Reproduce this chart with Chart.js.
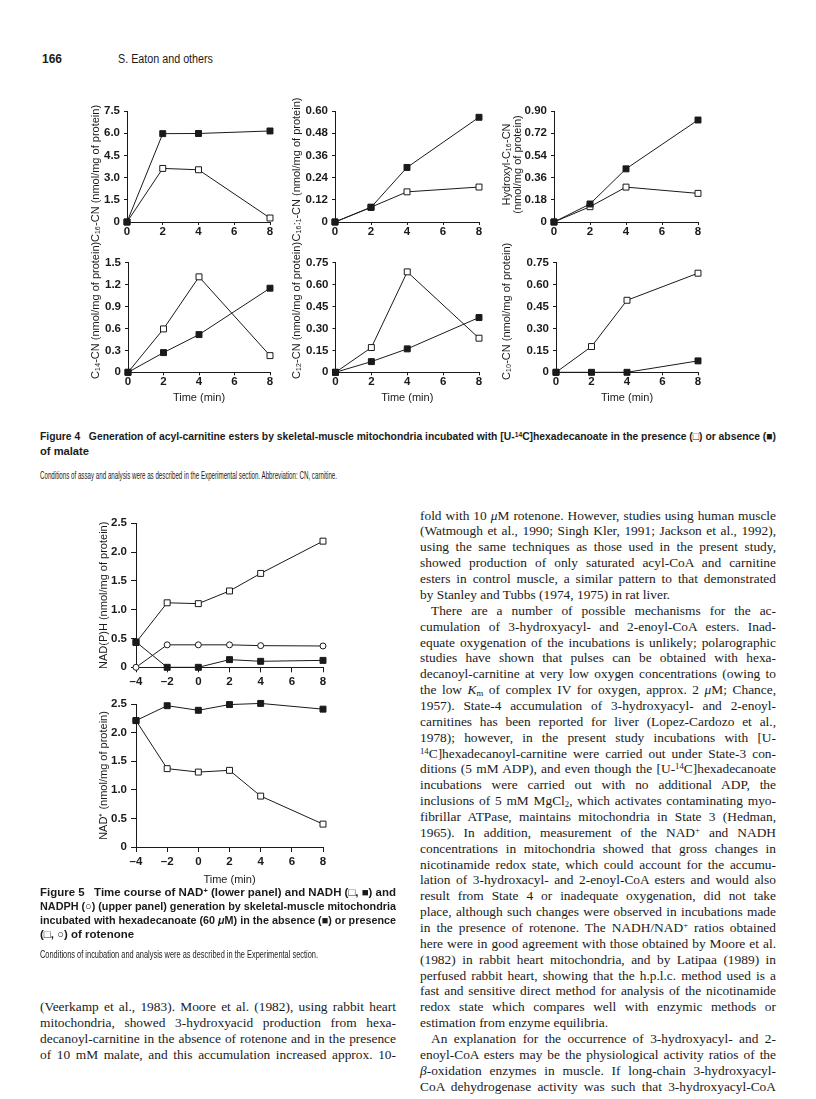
<!DOCTYPE html>
<html>
<head>
<meta charset="utf-8">
<script src="https://cdn.jsdelivr.net/npm/chart.js@4.4.0/dist/chart.umd.min.js"></script>
<style>
html, body { margin: 0; padding: 0; background: #fff; }
body { width: 816px; height: 1099px; position: relative; overflow: hidden; color: #1a1a1a; }
canvas { position: absolute; }
.ln { position: absolute; white-space: nowrap; line-height: 1; display: inline-block; transform-origin: 0 50%; }
.serif { font-family: "Liberation Serif", "Times New Roman", serif; font-size: 13.4px; }
.cap { font-family: "Liberation Sans Narrow", "Liberation Sans", Arial, sans-serif; font-weight: bold; font-size: 11px; }
.cond { font-family: "Liberation Sans Narrow", "Liberation Sans", Arial, sans-serif; font-size: 10.5px; }
.head { font-family: "Liberation Sans", Arial, sans-serif; font-size: 12px; }
sup { font-size: 0.65em; vertical-align: 0.45em; line-height: 0; }
sub { font-size: 0.65em; vertical-align: -0.2em; line-height: 0; }
</style>
</head>
<body>
<script>
// Figure 4 : temps (min)
const time4 = [0, 2, 4, 8];
const time4Ticks = [0, 2, 4, 6, 8];

const c16Malate = [0, 3.62, 3.53, 0.27];
const c16NoMalate = [0, 5.97, 5.98, 6.15];
const c16Ticks = [0, 1.5, 3.0, 4.5, 6.0, 7.5];

const c161Malate = [0, 0.08, 0.163, 0.189];
const c161NoMalate = [0, 0.079, 0.295, 0.566];
const c161Ticks = [0, 0.12, 0.24, 0.36, 0.48, 0.60];

const hydroxyMalate = [0, 0.124, 0.283, 0.232];
const hydroxyNoMalate = [0, 0.146, 0.431, 0.827];
const hydroxyTicks = [0, 0.18, 0.36, 0.54, 0.72, 0.90];

const c14Malate = [0, 0.593, 1.304, 0.228];
const c14NoMalate = [0, 0.269, 0.515, 1.149];
const c14Ticks = [0, 0.3, 0.6, 0.9, 1.2, 1.5];

const c12Malate = [0, 0.169, 0.686, 0.233];
const c12NoMalate = [0, 0.073, 0.16, 0.374];
const c12Ticks = [0, 0.15, 0.30, 0.45, 0.60, 0.75];

const c10Malate = [0, 0.176, 0.492, 0.677];
const c10NoMalate = [0, 0, 0, 0.078];
const c10Ticks = [0, 0.15, 0.30, 0.45, 0.60, 0.75];

// Figure 5
const time5 = [-4, -2, 0, 2, 4, 8];
const time5Ticks = [-4, -2, 0, 2, 4, 6, 8];
const nadhRotenone = [0.43, 1.12, 1.105, 1.325, 1.63, 2.19];
const nadhControl = [0.44, 0, 0, 0.133, 0.104, 0.12];
const nadphRotenone = [0, 0.39, 0.39, 0.39, 0.376, 0.37];
const nadRotenone = [2.21, 1.37, 1.31, 1.34, 0.89, 0.40];
const nadControl = [2.21, 2.47, 2.39, 2.49, 2.51, 2.41];
const nadTicks = [0, 0.5, 1.0, 1.5, 2.0, 2.5];

const INK = "#1a1a1a";
Chart.defaults.font.family = '"Liberation Sans", Arial, sans-serif';
Chart.defaults.color = INK;

function series(xs, ys, kind) {
    const filled = kind === "filled";
    return {
        data: xs.map((x, i) => ({ x: x, y: ys[i] })),
        borderColor: INK,
        borderWidth: 1,
        pointStyle: kind === "circle" ? "circle" : "rect",
        pointRadius: kind === "circle" ? 3 : 4.2,
        pointBackgroundColor: filled ? INK : "#fff",
        pointBorderColor: INK,
        pointBorderWidth: 1,
        tension: 0,
        clip: false
    };
}

function fmt(v, d) {
    return v === 0 ? "0" : v.toFixed(d);
}

// titre vertical dessiné à la main (le titre d'axe de Chart.js est comprimé à la hauteur du graphique)
function drawYTitle(chart, o, x0) {
    const ctx = chart.ctx;
    const a = chart.chartArea;
    const lines = Array.isArray(o.yTitle) ? o.yTitle : [o.yTitle];
    ctx.save();
    ctx.fillStyle = INK;
    ctx.font = '11px "Liberation Sans", Arial, sans-serif';
    ctx.textAlign = "center";
    ctx.textBaseline = "middle";
    lines.forEach((t, i) => {
        ctx.save();
        ctx.translate(x0 + i * 10.5, (a.top + a.bottom) / 2 + (o.shift || 0));
        ctx.rotate(-Math.PI / 2);
        ctx.fillText(t, 0, 0);
        ctx.restore();
    });
    ctx.restore();
}

function panel(o) {
    const lhX = 11 * 1.2;
    const left = Math.round(o.titleX - 8);
    const top = Math.round(o.top - 30);
    const xhWanted = o.xTitleY ? o.xTitleY + lhX / 2 - o.bottom : 36;
    const h = Math.round(o.bottom + xhWanted - top);
    const xh = h + top - o.bottom;
    const w = Math.round(o.right + 12 - left);
    const yw = o.left - left;

    const cv = document.createElement("canvas");
    cv.width = w;
    cv.height = h;
    cv.style.left = left + "px";
    cv.style.top = top + "px";
    document.body.appendChild(cv);

    const gridCfg = { display: true, drawOnChartArea: false, drawTicks: true, tickLength: o.tl, color: INK, lineWidth: 1 };
    new Chart(cv, {
        type: "line",
        data: { datasets: o.datasets },
        plugins: [{ id: "yTitle", afterDraw: c => drawYTitle(c, o, o.titleX - left) }],
        options: {
            responsive: false,
            animation: false,
            devicePixelRatio: 1,
            layout: { padding: { top: o.top - top, right: left + w - o.right, left: 0, bottom: 0 } },
            plugins: { legend: { display: false }, tooltip: { enabled: false } },
            scales: {
                x: {
                    type: "linear",
                    min: o.xTicks[0],
                    max: o.xTicks[o.xTicks.length - 1],
                    afterBuildTicks: s => { s.ticks = o.xTicks.map(v => ({ value: v })); },
                    afterFit: s => { s.height = xh; },
                    grid: gridCfg,
                    border: { display: true, color: INK, width: 1 },
                    ticks: {
                        color: INK, padding: o.xPad, maxRotation: 0, autoSkip: false,
                        font: { size: 11.5, weight: "bold" },
                        callback: v => String(v).replace("-", "\u2013")
                    },
                    title: { display: !!o.xTitleY, text: "Time (min)", color: INK, padding: 0, font: { size: 11, lineHeight: 1.2 } }
                },
                y: {
                    type: "linear",
                    min: 0,
                    max: o.yTicks[o.yTicks.length - 1],
                    afterBuildTicks: s => { s.ticks = o.yTicks.map(v => ({ value: v })); },
                    afterFit: s => { s.width = yw; },
                    grid: gridCfg,
                    border: { display: true, color: INK, width: 1 },
                    ticks: {
                        color: INK, padding: o.yPad, autoSkip: false,
                        font: { size: 11.5, weight: "bold" },
                        callback: v => fmt(v, o.dec)
                    },
                    title: { display: false }
                }
            }
        }
    });
}

// Figure 4, rangée du haut
const row1 = { top: 111, bottom: 222, tl: 3, xPad: 0, yPad: 4, xTicks: time4Ticks };
const row2 = { top: 262.5, bottom: 372.3, tl: 3, xPad: 0, yPad: 4, xTicks: time4Ticks, xTitleY: 398 };

panel(Object.assign({}, row1, {
    left: 127, right: 270, titleX: 96, shift: 7, yTicks: c16Ticks, dec: 1,
    yTitle: "C\u2081\u2086-CN (nmol/mg of protein)",
    datasets: [series(time4, c16NoMalate, "filled"), series(time4, c16Malate, "open")]
}));
panel(Object.assign({}, row1, {
    left: 335, right: 479, titleX: 297, shift: 3, yTicks: c161Ticks, dec: 2,
    yTitle: "C\u2081\u2086:\u2081-CN (nmol/mg of protein)",
    datasets: [series(time4, c161NoMalate, "filled"), series(time4, c161Malate, "open")]
}));
panel(Object.assign({}, row1, {
    left: 554, right: 698, titleX: 507, shift: -2, yTicks: hydroxyTicks, dec: 2,
    yTitle: ["Hydroxyl-C\u2081\u2086-CN", "(nmol/mg of protein)"],
    datasets: [series(time4, hydroxyNoMalate, "filled"), series(time4, hydroxyMalate, "open")]
}));

// Figure 4, rangée du bas
panel(Object.assign({}, row2, {
    left: 128, right: 270, titleX: 96, shift: -7, yTicks: c14Ticks, dec: 1,
    yTitle: "C\u2081\u2084-CN (nmol/mg of protein)",
    datasets: [series(time4, c14NoMalate, "filled"), series(time4, c14Malate, "open")]
}));
panel(Object.assign({}, row2, {
    left: 335.5, right: 479, titleX: 297, shift: -7, yTicks: c12Ticks, dec: 2,
    yTitle: "C\u2081\u2082-CN (nmol/mg of protein)",
    datasets: [series(time4, c12NoMalate, "filled"), series(time4, c12Malate, "open")]
}));
panel(Object.assign({}, row2, {
    left: 556, right: 698, titleX: 507, shift: -6, yTicks: c10Ticks, dec: 2,
    yTitle: "C\u2081\u2080-CN (nmol/mg of protein)",
    datasets: [series(time4, c10NoMalate, "filled"), series(time4, c10Malate, "open")]
}));

// Figure 5
panel({
    top: 523.3, bottom: 667.3, left: 136, right: 323, titleX: 104,
    tl: 5, xPad: 3, yPad: 4, xTicks: time5Ticks, yTicks: nadTicks, dec: 1,
    yTitle: "NAD(P)H (nmol/mg of protein)",
    datasets: [series(time5, nadhControl, "filled"), series(time5, nadhRotenone, "open"), series(time5, nadphRotenone, "circle")]
});
panel({
    top: 704, bottom: 847, left: 136, right: 323, titleX: 104, xTitleY: 880,
    tl: 5, xPad: 3, yPad: 4, xTicks: time5Ticks, yTicks: nadTicks, dec: 1,
    yTitle: "NAD\u207A (nmol/mg of protein)",
    datasets: [series(time5, nadControl, "filled"), series(time5, nadRotenone, "open")]
});

// Texte de la page
function addLine(html, cls, x, yc, w, mode, forcedScale) {
    const el = document.createElement("span");
    el.className = "ln " + cls;
    el.innerHTML = html;
    document.body.appendChild(el);
    const fs = parseFloat(getComputedStyle(el).fontSize);
    el.style.left = x + "px";
    el.style.top = (yc - fs * 0.55) + "px";
    const w0 = el.getBoundingClientRect().width;
    let k = 1;
    if (forcedScale) {
        k = forcedScale;
    } else if (mode === "fit" || (mode === "just" && w0 > w)) {
        k = w / w0;
    } else if (mode === "just") {
        const n = (el.textContent.match(/ /g) || []).length;
        if (n) el.style.wordSpacing = ((w - w0) / n) + "px";
    }
    if (k !== 1) el.style.transform = "scaleX(" + k + ")";
    return k;
}

addLine("<b>166</b>", "head", 42, 60, 20, "fit");
addLine("S. Eaton and others", "head", 118, 60, 95, "fit");

addLine("Figure 4&nbsp;&nbsp;&nbsp;Generation of acyl-carnitine esters by skeletal-muscle mitochondria incubated with [U-<sup>14</sup>C]hexadecanoate in the presence (\u25A1) or absence (\u25A0)", "cap", 40, 437, 736, "fit");
addLine("of malate", "cap", 40, 452, 49, "fit");
addLine("Conditions of assay and analysis were as described in the Experimental section. Abbreviation: CN, carnitine.", "cond", 40, 476, 297, "fit");

const fig5Caption = [
    "Figure 5&nbsp;&nbsp;&nbsp;Time course of NAD<sup>+</sup> (lower panel) and NADH (\u25A1, \u25A0) and",
    "NADPH (\u25CB) (upper panel) generation by skeletal-muscle mitochondria",
    "incubated with hexadecanoate (60 <i>\u03BC</i>M) in the absence (\u25A0) or presence",
    "(\u25A1, \u25CB) of rotenone"
];
let capScale = 1;
fig5Caption.forEach((t, i) => {
    const last = i === fig5Caption.length - 1;
    const k = addLine(t, "cap", 40, 893 + 14 * i, 356, "fit", last ? capScale : 0);
    if (i === 0) capScale = k;
});
addLine("Conditions of incubation and analysis were as described in the Experimental section.", "cond", 40, 955, 278, "fit");

const leftText = [
    "(Veerkamp et al., 1983). Moore et al. (1982), using rabbit heart",
    "mitochondria, showed 3-hydroxyacid production from hexa-",
    "decanoyl-carnitine in the absence of rotenone and in the presence",
    "of 10 mM malate, and this accumulation increased approx. 10-"
];
leftText.forEach((t, i) => addLine(t, "serif", 40, 1007 + 16 * i, 356, "just"));

const rightText = [
    "fold with 10 <i>\u03BC</i>M rotenone. However, studies using human muscle",
    "(Watmough et al., 1990; Singh Kler, 1991; Jackson et al., 1992),",
    "using the same techniques as those used in the present study,",
    "showed production of only saturated acyl-CoA and carnitine",
    "esters in control muscle, a similar pattern to that demonstrated",
    "by Stanley and Tubbs (1974, 1975) in rat liver.|",
    ">There are a number of possible mechanisms for the ac-",
    "cumulation of 3-hydroxyacyl- and 2-enoyl-CoA esters. Inad-",
    "equate oxygenation of the incubations is unlikely; polarographic",
    "studies have shown that pulses can be obtained with hexa-",
    "decanoyl-carnitine at very low oxygen concentrations (owing to",
    "the low <i>K</i><sub>m</sub> of complex IV for oxygen, approx. 2 <i>\u03BC</i>M; Chance,",
    "1957). State-4 accumulation of 3-hydroxyacyl- and 2-enoyl-",
    "carnitines has been reported for liver (Lopez-Cardozo et al.,",
    "1978); however, in the present study incubations with [U-",
    "<sup>14</sup>C]hexadecanoyl-carnitine were carried out under State-3 con-",
    "ditions (5 mM ADP), and even though the [U-<sup>14</sup>C]hexadecanoate",
    "incubations were carried out with no additional ADP, the",
    "inclusions of 5 mM MgCl<sub>2</sub>, which activates contaminating myo-",
    "fibrillar ATPase, maintains mitochondria in State 3 (Hedman,",
    "1965). In addition, measurement of the NAD<sup>+</sup> and NADH",
    "concentrations in mitochondria showed that gross changes in",
    "nicotinamide redox state, which could account for the accumu-",
    "lation of 3-hydroxacyl- and 2-enoyl-CoA esters and would also",
    "result from State 4 or inadequate oxygenation, did not take",
    "place, although such changes were observed in incubations made",
    "in the presence of rotenone. The NADH/NAD<sup>+</sup> ratios obtained",
    "here were in good agreement with those obtained by Moore et al.",
    "(1982) in rabbit heart mitochondria, and by Latipaa (1989) in",
    "perfused rabbit heart, showing that the h.p.l.c. method used is a",
    "fast and sensitive direct method for analysis of the nicotinamide",
    "redox state which compares well with enzymic methods or",
    "estimation from enzyme equilibria.|",
    ">An explanation for the occurrence of 3-hydroxyacyl- and 2-",
    "enoyl-CoA esters may be the physiological activity ratios of the",
    "<i>\u03B2</i>-oxidation enzymes in muscle. If long-chain 3-hydroxyacyl-",
    "CoA dehydrogenase activity was such that 3-hydroxyacyl-CoA"
];
rightText.forEach((t, i) => {
    const indent = t.startsWith(">");
    const last = t.endsWith("|");
    const html = t.replace(/^>/, "").replace(/\|$/, "");
    const x = indent ? 431 : 420;
    addLine(html, "serif", x, 516 + 15.86 * i, 776 - x, last ? "none" : "just");
});
</script>
</body>
</html>
